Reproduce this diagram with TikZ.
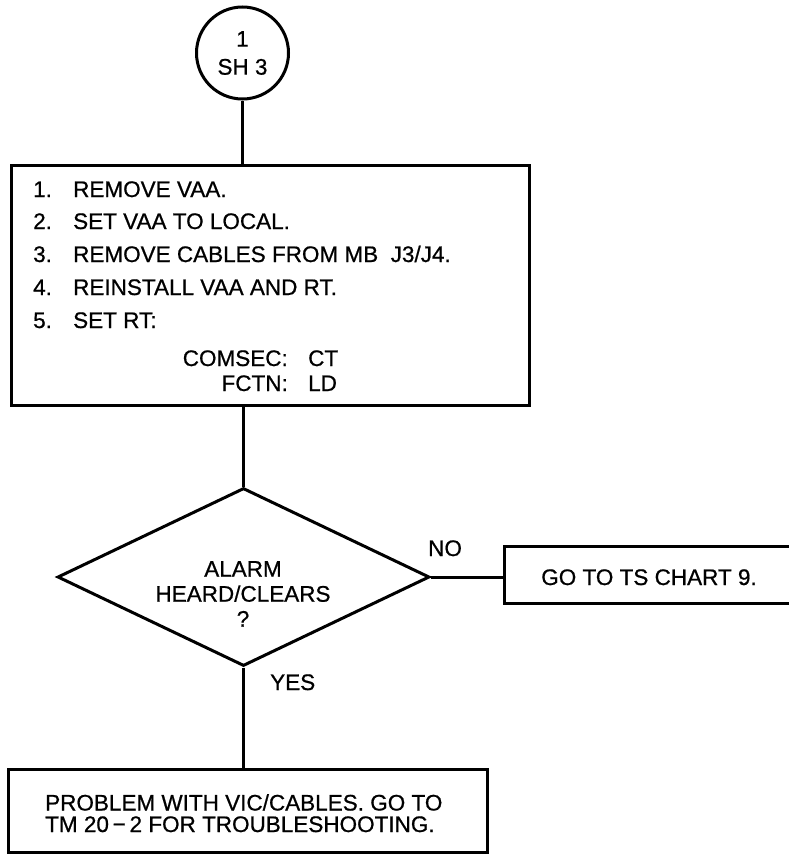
\documentclass[tikz,border=0pt]{standalone}
\usepackage{fontspec}
\newfontfamily\heavysans{Liberation Sans}[FakeBold=0.7]
\usetikzlibrary{shapes.geometric}
\begin{document}
\begin{tikzpicture}[x=1pt,y=-1pt,
  line/.style={line width=3pt},
  fnt/.style={font=\heavysans\fontsize{22.5}{25}\selectfont},
  lbl/.style={fnt, inner sep=0pt, text height=16pt, text depth=0pt},
  boxx/.style={draw, line, inner sep=0pt}]
\useasboundingbox (0,0) rectangle (788,854);
% start circle
\node[draw, line, circle, minimum size=92pt, inner sep=0pt, align=center,
      font=\heavysans\fontsize{22.5}{28}\selectfont] (c) at (242.5,53) {1\\SH 3};
% first box
\node[boxx, minimum width=518pt, minimum height=240pt] (box1) at (270.5,285.5) {};
\node[lbl, anchor=west] (s1) at (33,189) {\makebox[40pt][l]{1.}REMOVE VAA.};
\node[lbl, anchor=west] (s2) at (33,221) {\makebox[40pt][l]{2.}SET VAA TO LOCAL.};
\node[lbl, anchor=west] (s3) at (33,254) {\makebox[40pt][l]{3.}REMOVE CABLES FROM MB\ \ J3/J4.};
\node[lbl, anchor=west] (s4) at (33,287) {\makebox[40pt][l]{4.}REINSTALL VAA AND RT.};
\node[lbl, anchor=west] (s5) at (33,320) {\makebox[40pt][l]{5.}SET RT:};
\node[lbl, anchor=east] (k1) at (288,358) {COMSEC:};
\node[lbl, anchor=west] (v1) at (308,358) {CT};
\node[lbl, anchor=east] (k2) at (288,383) {FCTN:};
\node[lbl, anchor=west] (v2) at (308,383) {LD};
% decision
\node[draw, line, diamond, aspect=2.09, minimum width=372pt, minimum height=178pt,
      inner sep=0pt] (d) at (243.5,577) {};
\node[fnt, inner sep=0pt, align=center, anchor=north] (dq) at (243,561)
      {ALARM\\HEARD/CLEARS\\?};
\node[lbl, anchor=west] (no) at (428,548) {NO};
\node[lbl, anchor=west] (yes) at (270,682) {YES};
% right box (runs off the page)
\coordinate (b2nw) at (504.5,546.5);
\coordinate (b2sw) at (504.5,603.5);
\coordinate (b2ne) at (790,546.5);
\coordinate (b2se) at (790,603.5);
\draw[line] (b2ne) -- (b2nw) -- (b2sw) -- (b2se);
\node[lbl] (box2) at (649,577) {GO TO TS CHART 9.};
% bottom box
\node[boxx, minimum width=479pt, minimum height=82.5pt] (box3) at (248,810.75) {};
\node[inner sep=0pt, align=left, anchor=north west,
      font=\heavysans\fontsize{22.5}{21.5}\selectfont] (t3) at (45,794)
      {PROBLEM WITH VIC/CABLES. GO TO\\TM 20\,−\,2 FOR TROUBLESHOOTING.};
% connectors
\draw[line] (c.south) -- (c.south |- box1.north);
\draw[line] (d.north |- box1.south) -- (d.north);
\draw[line] (d.east) -- (d.east -| b2sw);
\draw[line] (d.south) -- (d.south |- box3.north);
\end{tikzpicture}
\end{document}
